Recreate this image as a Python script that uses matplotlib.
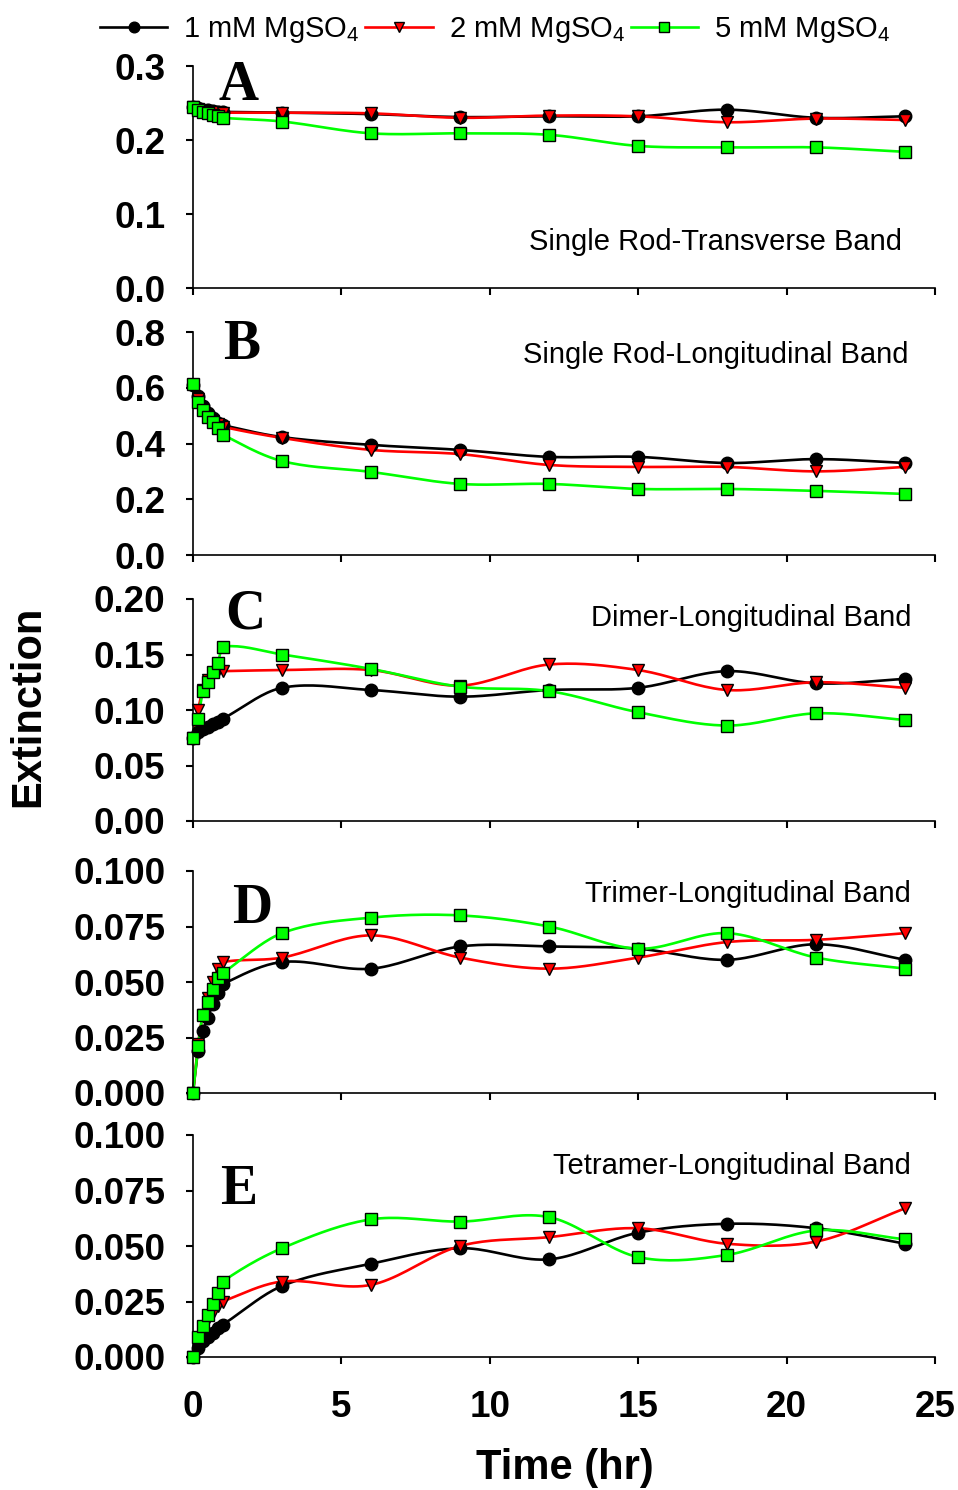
import numpy as np
import matplotlib
matplotlib.use("Agg")
import matplotlib.pyplot as plt
from matplotlib.lines import Line2D

plt.rcParams['font.family'] = ['Liberation Sans', 'DejaVu Sans']
plt.rcParams['mathtext.fontset'] = 'custom'
plt.rcParams['mathtext.rm'] = 'Liberation Sans'
plt.rcParams['mathtext.it'] = 'Liberation Sans'

# time points (hr)
time = [0, 0.17, 0.33, 0.5, 0.67, 0.83, 1, 3, 6, 9, 12, 15, 18, 21, 24]

series_names = ['1 mM MgSO$_4$', '2 mM MgSO$_4$', '5 mM MgSO$_4$']

# panel A: single rod - transverse band
a_1mM = [0.245, 0.243, 0.241, 0.240, 0.239, 0.238, 0.238, 0.237, 0.235, 0.231, 0.232, 0.232, 0.241, 0.230, 0.232]
a_2mM = [0.245, 0.242, 0.240, 0.239, 0.238, 0.238, 0.237, 0.237, 0.236, 0.230, 0.233, 0.232, 0.224, 0.229, 0.227]
a_5mM = [0.245, 0.241, 0.238, 0.236, 0.234, 0.232, 0.230, 0.225, 0.209, 0.209, 0.207, 0.192, 0.190, 0.190, 0.184]

# panel B: single rod - longitudinal band
b_1mM = [0.61, 0.57, 0.535, 0.51, 0.49, 0.475, 0.466, 0.423, 0.395, 0.377, 0.352, 0.352, 0.330, 0.344, 0.330]
b_2mM = [0.61, 0.56, 0.52, 0.495, 0.48, 0.47, 0.46, 0.420, 0.377, 0.362, 0.323, 0.316, 0.316, 0.300, 0.316]
b_5mM = [0.615, 0.55, 0.52, 0.495, 0.477, 0.456, 0.432, 0.337, 0.298, 0.255, 0.255, 0.237, 0.237, 0.230, 0.219]

# panel C: dimer - longitudinal band
c_1mM = [0.075, 0.080, 0.083, 0.085, 0.087, 0.089, 0.092, 0.120, 0.118, 0.112, 0.118, 0.120, 0.135, 0.124, 0.128]
c_2mM = [0.075, 0.100, 0.118, 0.127, 0.133, 0.135, 0.135, 0.136, 0.136, 0.122, 0.141, 0.136, 0.118, 0.125, 0.120]
c_5mM = [0.075, 0.092, 0.117, 0.125, 0.134, 0.142, 0.157, 0.150, 0.137, 0.121, 0.117, 0.098, 0.086, 0.097, 0.091]

# panel D: trimer - longitudinal band
d_1mM = [0.0, 0.019, 0.028, 0.034, 0.040, 0.045, 0.049, 0.059, 0.056, 0.066, 0.066, 0.065, 0.060, 0.067, 0.060]
d_2mM = [0.0, 0.022, 0.035, 0.043, 0.050, 0.056, 0.059, 0.061, 0.071, 0.061, 0.056, 0.061, 0.068, 0.069, 0.072]
d_5mM = [0.0, 0.021, 0.035, 0.041, 0.047, 0.052, 0.054, 0.072, 0.079, 0.080, 0.075, 0.065, 0.072, 0.061, 0.056]

# panel E: tetramer - longitudinal band
e_1mM = [0.0, 0.004, 0.007, 0.009, 0.011, 0.013, 0.0145, 0.032, 0.042, 0.049, 0.044, 0.056, 0.060, 0.058, 0.051]
e_2mM = [0.0, 0.008, 0.013, 0.017, 0.020, 0.023, 0.025, 0.034, 0.0325, 0.050, 0.054, 0.058, 0.051, 0.052, 0.067]
e_5mM = [0.0, 0.009, 0.014, 0.019, 0.024, 0.029, 0.034, 0.049, 0.062, 0.061, 0.063, 0.045, 0.046, 0.057, 0.053]

panels = [
    ('A', 'Single Rod-Transverse Band', [a_1mM, a_2mM, a_5mM], (0, 0.3), 0.1, '%.1f'),
    ('B', 'Single Rod-Longitudinal Band', [b_1mM, b_2mM, b_5mM], (0, 0.8), 0.2, '%.1f'),
    ('C', 'Dimer-Longitudinal Band', [c_1mM, c_2mM, c_5mM], (0, 0.2), 0.05, '%.2f'),
    ('D', 'Trimer-Longitudinal Band', [d_1mM, d_2mM, d_5mM], (0, 0.1), 0.025, '%.3f'),
    ('E', 'Tetramer-Longitudinal Band', [e_1mM, e_2mM, e_5mM], (0, 0.1), 0.025, '%.3f'),
]


def smooth(x, y, n=20):
    # cubic hermite through the points, tangents weighted by interval length
    x = np.asarray(x, float)
    y = np.asarray(y, float)
    h = np.diff(x)
    d = np.diff(y) / h
    m = np.zeros_like(y)
    m[0] = d[0]
    m[-1] = d[-1]
    for i in range(1, len(x) - 1):
        m[i] = (h[i - 1] * d[i - 1] + h[i] * d[i]) / (h[i - 1] + h[i])
    xs, ys = [], []
    for i in range(len(h)):
        t = np.linspace(0, 1, n, endpoint=False)
        h00 = 2 * t**3 - 3 * t**2 + 1
        h10 = t**3 - 2 * t**2 + t
        h01 = -2 * t**3 + 3 * t**2
        h11 = t**3 - t**2
        xs.append(x[i] + t * h[i])
        ys.append(h00 * y[i] + h10 * h[i] * m[i] + h01 * y[i + 1] + h11 * h[i] * m[i + 1])
    xs.append([x[-1]])
    ys.append([y[-1]])
    return np.concatenate(xs), np.concatenate(ys)


styles = [
    dict(color='black', marker='o', mfc='black', ms=9),
    dict(color='red', marker='v', mfc='red', ms=9),
    dict(color='#00ff00', marker='s', mfc='#00ff00', ms=8),
]

text_pos = [(0.955, 0.207), (0.964, 0.897), (0.968, 0.914), (0.968, 0.896), (0.968, 0.86)]
letter_pos = [(0.061, 0.91), (0.066, 0.94), (0.07, 0.93), (0.08, 0.83), (0.061, 0.75)]
bottoms = [288, 555, 821, 1093, 1357]
tops = [66, 332, 599, 871, 1135]

fig = plt.figure(figsize=(9.58, 14.9), dpi=100)
H = 1490.0
left = 193 / 958
width = (935 - 193) / 958

for k, (letter, label, ys, ylim, step, fmt) in enumerate(panels):
    ax = fig.add_axes([left, 1 - bottoms[k] / H, width, (bottoms[k] - tops[k]) / H])
    for y, st in zip(ys, styles):
        sx, sy = smooth(time, y)
        ax.plot(sx, sy, color=st['color'], lw=1.9, clip_on=False, zorder=2)
        ax.plot(time, y, ls='none', marker=st['marker'], mfc=st['mfc'], mec='black',
                mew=1.0, ms=st['ms'], clip_on=False, zorder=3)
    ax.set_xlim(0, 25)
    ax.set_ylim(*ylim)
    ax.set_yticks(np.arange(ylim[0], ylim[1] + step / 2, step))
    ax.yaxis.set_major_formatter(matplotlib.ticker.FormatStrFormatter(fmt))
    ax.set_xticks([0, 5, 10, 15, 20, 25])
    ax.spines['top'].set_visible(False)
    ax.spines['right'].set_visible(False)
    for s in ['left', 'bottom']:
        ax.spines[s].set_linewidth(1.2)
    ax.tick_params(direction='out', length=5, width=1.5, labelsize=26.5)
    ax.tick_params(axis='y', pad=15)
    ax.tick_params(axis='x', pad=19)
    for lab in ax.get_yticklabels() + ax.get_xticklabels():
        lab.set_fontweight('bold')
    if k < 4:
        ax.tick_params(labelbottom=False)
    ax.text(*text_pos[k], label, transform=ax.transAxes, ha='right', va='center', fontsize=21)
    ax.text(*letter_pos[k], letter, transform=ax.transAxes, ha='center', va='center',
            fontsize=40, fontweight='bold', family=['Liberation Serif', 'DejaVu Serif'])

handles = [Line2D([], [], color=st['color'], lw=1.9, marker=st['marker'], mfc=st['mfc'],
                  mec='black', ms=st['ms'] * 0.85) for st in styles]
fig.legend(handles, series_names, loc='center', bbox_to_anchor=(0.517, 0.980), ncol=3,
           frameon=False, fontsize=21, handlelength=2.3, handletextpad=0.55, columnspacing=0.2)

fig.text(0.029, 0.526, 'Extinction', rotation=90, ha='center', va='center',
         fontsize=30, fontweight='bold')
fig.text(0.59, 0.0148, 'Time (hr)', ha='center', va='center', fontsize=30, fontweight='bold')

fig.savefig('out.png', dpi=100)
